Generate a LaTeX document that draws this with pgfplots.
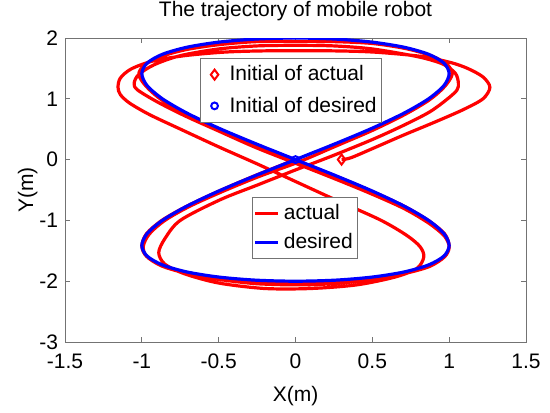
\documentclass[border=0pt]{standalone}
\usepackage{fontspec}
\setmainfont{Liberation Sans}
\usepackage{pgfplots}
\pgfplotsset{compat=1.18}
\begin{document}
\begin{tikzpicture}[font=\fontsize{10.5}{12.6}\selectfont]
\path[use as bounding box] (-32.5pt,-35pt) rectangle (242.5pt,171pt);
\pgfplotsset{
  base/.style={
    scale only axis, width=230.5pt, height=152pt,
    xmin=-1.5, xmax=1.5, ymin=-3, ymax=2,
    at={(0,0)}, anchor=south west,
  },
}
\begin{axis}[base,
  axis line style={black!55, line width=0.5pt},
  tick style={black!55, line width=0.5pt},
  tick align=inside, major tick length=2.5pt,
  xtick={-1.5,-1,-0.5,0,0.5,1,1.5},
  xticklabels={-1.5,-1,-0.5,0,0.5,1,1.5},
  ytick={-3,-2,-1,0,1,2},
  yticklabels={-3,-2,-1,0,1,2},
  xticklabel style={yshift=-2.5pt},
  xlabel={X(m)}, ylabel={Y(m)},
  xlabel style={yshift=-2pt},
  ylabel style={yshift=-6pt},
  title={The trajectory of mobile robot},
  title style={yshift=-1pt},
  legend style={at={(0.406,0.477)}, anchor=north west, draw=black!55, fill=white,
    line width=0.5pt, inner xsep=0.5pt, inner ysep=1.5pt, row sep=1.5pt,
    font=\fontsize{10.5}{12.6}\selectfont},
  legend cell align=left,
  legend image code/.code={\draw[#1] (0pt,0pt) -- (11.5pt,0pt);},
]
\addplot[red, line width=1.6pt, smooth, tension=0.5] coordinates {
(0.30,0.00) (0.36,0.03) (0.50,0.18) (0.70,0.40) (0.90,0.61) (1.09,0.82) (1.22,1.00)
(1.265,1.19) (1.22,1.36) (1.12,1.50) (1.005,1.60) (0.81,1.70) (0.5,1.77) (0.2,1.79)
(-0.16,1.79) (-0.45,1.77) (-0.72,1.71) (-0.93,1.62) (-1.07,1.49) (-1.14,1.34)
(-1.155,1.19) (-1.14,1.07) (-1.08,0.93) (-0.95,0.74) (-0.748,0.50) (-0.5,0.21)
(-0.25,-0.07) (0,-0.36) (0.25,-0.65) (0.55,-0.99) (0.72,-1.24) (0.81,-1.43)
(0.835,-1.60) (0.79,-1.79) (0.65,-1.93) (0.4,-2.06) (0.1,-2.12) (-0.2,-2.12)
(-0.5,-2.03) (-0.72,-1.88) (-0.85,-1.72) (-0.89,-1.53) (-0.85,-1.30) (-0.75,-1.00)
(-0.49,-0.66) (-0.25,-0.42) (0,-0.17) (0.228,0.05) (0.5,0.33) (0.7,0.56) (0.87,0.78)
(0.98,0.98) (1.05,1.14) (1.06,1.26) (1.04,1.42) (0.96,1.57) (0.8,1.69) (0.5,1.82)
(0.25,1.87) (0,1.88) (-0.25,1.87) (-0.5,1.82) (-0.75,1.71) (-0.92,1.56) (-1.02,1.40)
(-1.05,1.26) (-1.03,1.15) (-0.9,0.95) (-0.72,0.72) (-0.5,0.47) (-0.26,0.2) (0,-0.06)
(0.26,-0.32) (0.5,-0.57) (0.71,-0.81) (0.87,-1.05) (0.97,-1.26) (1.0,-1.44)
(0.97,-1.6) (0.87,-1.76) (0.7,-1.88) (0.5,-1.97) (0.25,-2.04) (0,-2.06) (-0.26,-2.04)
(-0.5,-1.97) (-0.71,-1.87) (-0.87,-1.75) (-0.97,-1.59) (-0.99,-1.42) (-0.95,-1.22)
(-0.85,-1.0) (-0.69,-0.77) (-0.48,-0.53) (-0.24,-0.28) (0.02,-0.04) (0.27,0.23)
(0.5,0.48) (0.71,0.74) (0.87,0.98) (0.97,1.2) (1.02,1.41) (0.98,1.58) (0.87,1.72)
(0.71,1.83) (0.5,1.91) (0.26,1.94) (0,1.945) (-0.26,1.94) (-0.5,1.89) (-0.71,1.81)
(-0.87,1.70) (-0.98,1.56) (-1.02,1.40) (-0.97,1.2) (-0.87,0.98) (-0.71,0.75)
(-0.5,0.505) (-0.26,0.25) (0,-0.01) (0.26,-0.27) (0.5,-0.525) (0.71,-0.77)
(0.87,-1.01) (0.97,-1.22) (1.0,-1.42) (0.97,-1.59) (0.87,-1.74) (0.71,-1.86)
(0.5,-1.95) (0.26,-2.0) (0,-2.02) (-0.26,-2.0) (-0.5,-1.94) (-0.71,-1.86)
(-0.87,-1.74) (-0.97,-1.59) (-1.0,-1.42) (-0.97,-1.22) (-0.87,-1.0) (-0.71,-0.77)
(-0.5,-0.52) (-0.26,-0.26) (0,0)
};
\addlegendentry{actual}
\addplot[blue, line width=1.6pt, smooth, tension=0.5] coordinates {
(0,0) (0.2588,0.2611) (0.5,0.5176) (0.7071,0.7654) (0.866,1.0) (0.9659,1.2175)
(1,1.4142) (0.9659,1.5867) (0.866,1.7321) (0.7071,1.8478) (0.5,1.9319) (0.2588,1.9829)
(0,2) (-0.2588,1.9829) (-0.5,1.9319) (-0.7071,1.8478) (-0.866,1.7321) (-0.9659,1.5867)
(-1,1.4142) (-0.9659,1.2175) (-0.866,1.0) (-0.7071,0.7654) (-0.5,0.5176) (-0.2588,0.2611)
(0,0) (0.2588,-0.2611) (0.5,-0.5176) (0.7071,-0.7654) (0.866,-1) (0.9659,-1.2175)
(1,-1.4142) (0.9659,-1.5867) (0.866,-1.7321) (0.7071,-1.8478) (0.5,-1.9319) (0.2588,-1.9829)
(0,-2) (-0.2588,-1.9829) (-0.5,-1.9319) (-0.7071,-1.8478) (-0.866,-1.7321) (-0.9659,-1.5867)
(-1,-1.4142) (-0.9659,-1.2175) (-0.866,-1) (-0.7071,-0.7654) (-0.5,-0.5176) (-0.2588,-0.2611)
(0,0)
};
\addlegendentry{desired}
\end{axis}
\begin{axis}[base, hide axis,
  legend style={at={(0.293,0.934)}, anchor=north west, draw=black!55, fill=white,
    line width=0.5pt, inner xsep=0.5pt, inner ysep=1.5pt, row sep=2.5pt,
    font=\fontsize{10.5}{12.6}\selectfont},
  legend cell align=left,
  legend image code/.code={\path[draw=none,fill=none] (0pt,0pt) -- (12pt,0pt); \draw[#1] plot coordinates {(6.5pt,0pt)};},
]
\addplot[only marks, mark=diamond, mark size=2.5pt, red, mark options={line width=1pt}] coordinates {(0.3,0)};
\addlegendentry{Initial of actual}
\addplot[only marks, mark=o, mark size=1.7pt, blue, mark options={line width=1pt}] coordinates {(0,0)};
\addlegendentry{Initial of desired}
\end{axis}
\end{tikzpicture}
\end{document}
